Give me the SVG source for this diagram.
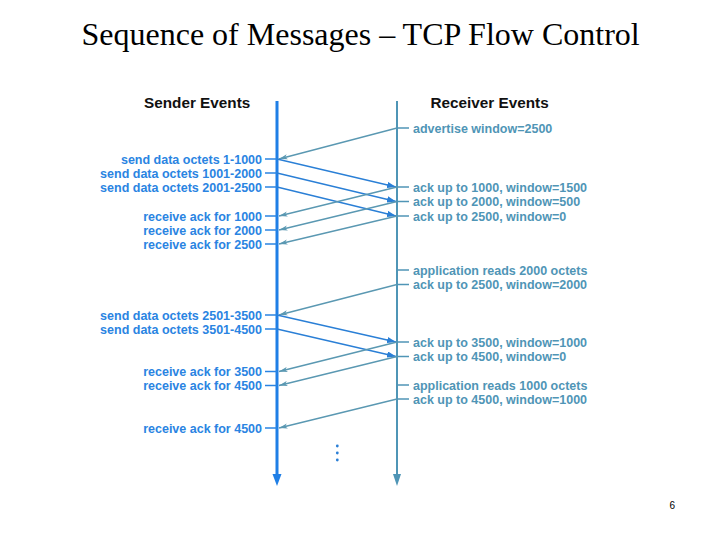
<svg xmlns="http://www.w3.org/2000/svg" width="720" height="540" viewBox="0 0 720 540">
<style>
.title{font-family:"Liberation Serif","Times New Roman",serif;font-size:32px;fill:#000}
.head{font-family:"Liberation Sans",Arial,sans-serif;font-weight:bold;font-size:15.3px;fill:#111}
.sl{font-family:"Liberation Sans",Arial,sans-serif;font-weight:bold;font-size:12.5px;fill:#2a84e2;text-anchor:end}
.rl{font-family:"Liberation Sans",Arial,sans-serif;font-weight:bold;font-size:12.5px;fill:#4f95b6}
.stick{stroke:#2a84e2;stroke-width:1.5}
.rtick{stroke:#4f95b6;stroke-width:1.5}
.data{stroke:#2a7fd6;stroke-width:1.3;fill:none;marker-end:url(#ad)}
.ack{stroke:#5a98b2;stroke-width:1.3;fill:none;marker-end:url(#aa)}
.num{font-family:"Liberation Sans",Arial,sans-serif;font-size:10px;fill:#000}
</style>
<defs>
<marker id="ad" viewBox="0 0 10 7" refX="10" refY="3.5" markerWidth="9" markerHeight="6.3" markerUnits="userSpaceOnUse" orient="auto">
<path d="M0,0 L10,3.5 L0,7 z" fill="#2a7fd6"/>
</marker>
<marker id="aa" viewBox="0 0 10 7" refX="10" refY="3.5" markerWidth="9" markerHeight="6" markerUnits="userSpaceOnUse" orient="auto">
<path d="M0,0.5 L10,3.5 L0,6.5 L2.5,3.5 z" fill="#5a98b2"/>
</marker>
</defs>
<rect width="720" height="540" fill="#fff"/>
<text class="title" x="81.5" y="45">Sequence of Messages – TCP Flow Control</text>

<g id="sender-axis">
<text class="head" x="144" y="108">Sender Events</text>
<line x1="277" y1="101" x2="277" y2="477" stroke="#1f7fe6" stroke-width="3"/>
<path d="M272.5,474 L281.5,474 L277,486 z" fill="#1f7fe6"/>
</g>
<g id="receiver-axis">
<text class="head" x="430.5" y="108">Receiver Events</text>
<line x1="397" y1="101" x2="397" y2="477" stroke="#4f95b6" stroke-width="2"/>
<path d="M393,474 L401,474 L397,486 z" fill="#4f95b6"/>
</g>

<g id="sender-events">
<g id="s1"><line class="stick" x1="265" y1="159" x2="277" y2="159"/><text class="sl" x="262" y="163.5">send data octets 1-1000</text></g>
<g id="s2"><line class="stick" x1="265" y1="173" x2="277" y2="173"/><text class="sl" x="262" y="177.5">send data octets 1001-2000</text></g>
<g id="s3"><line class="stick" x1="265" y1="187" x2="277" y2="187"/><text class="sl" x="262" y="191.5">send data octets 2001-2500</text></g>
<g id="s4"><line class="stick" x1="265" y1="216" x2="277" y2="216"/><text class="sl" x="262" y="220.5">receive ack for 1000</text></g>
<g id="s5"><line class="stick" x1="265" y1="230" x2="277" y2="230"/><text class="sl" x="262" y="234.5">receive ack for 2000</text></g>
<g id="s6"><line class="stick" x1="265" y1="244" x2="277" y2="244"/><text class="sl" x="262" y="248.5">receive ack for 2500</text></g>
<g id="s7"><line class="stick" x1="265" y1="315" x2="277" y2="315"/><text class="sl" x="262" y="319.5">send data octets 2501-3500</text></g>
<g id="s8"><line class="stick" x1="265" y1="329" x2="277" y2="329"/><text class="sl" x="262" y="333.5">send data octets 3501-4500</text></g>
<g id="s9"><line class="stick" x1="265" y1="371.5" x2="277" y2="371.5"/><text class="sl" x="262" y="376">receive ack for 3500</text></g>
<g id="s10"><line class="stick" x1="265" y1="385.5" x2="277" y2="385.5"/><text class="sl" x="262" y="390">receive ack for 4500</text></g>
<g id="s11"><line class="stick" x1="265" y1="428" x2="277" y2="428"/><text class="sl" x="262" y="432.5">receive ack for 4500</text></g>
</g>

<g id="receiver-events">
<g id="r1"><line class="rtick" x1="397" y1="128" x2="409" y2="128"/><text class="rl" x="413" y="132.5">advertise window=2500</text></g>
<g id="r2"><line class="rtick" x1="397" y1="187" x2="409" y2="187"/><text class="rl" x="413" y="191.5">ack up to 1000, window=1500</text></g>
<g id="r3"><line class="rtick" x1="397" y1="201.5" x2="409" y2="201.5"/><text class="rl" x="413" y="206">ack up to 2000, window=500</text></g>
<g id="r4"><line class="rtick" x1="397" y1="216" x2="409" y2="216"/><text class="rl" x="413" y="220.5">ack up to 2500, window=0</text></g>
<g id="r5"><line class="rtick" x1="397" y1="270" x2="409" y2="270"/><text class="rl" x="413" y="274.5">application reads 2000 octets</text></g>
<g id="r6"><line class="rtick" x1="397" y1="284.5" x2="409" y2="284.5"/><text class="rl" x="413" y="289">ack up to 2500, window=2000</text></g>
<g id="r7"><line class="rtick" x1="397" y1="342" x2="409" y2="342"/><text class="rl" x="413" y="346.5">ack up to 3500, window=1000</text></g>
<g id="r8"><line class="rtick" x1="397" y1="356.5" x2="409" y2="356.5"/><text class="rl" x="413" y="361">ack up to 4500, window=0</text></g>
<g id="r9"><line class="rtick" x1="397" y1="385" x2="409" y2="385"/><text class="rl" x="413" y="389.5">application reads 1000 octets</text></g>
<g id="r10"><line class="rtick" x1="397" y1="399" x2="409" y2="399"/><text class="rl" x="413" y="403.5">ack up to 4500, window=1000</text></g>
</g>

<g id="connectors">
<line class="ack" x1="397" y1="128" x2="279" y2="159"/>
<line class="data" x1="277" y1="159" x2="396" y2="187"/>
<line class="data" x1="277" y1="173" x2="396" y2="201.5"/>
<line class="data" x1="277" y1="187" x2="396" y2="216"/>
<line class="ack" x1="397" y1="187" x2="279" y2="216"/>
<line class="ack" x1="397" y1="201.5" x2="279" y2="230"/>
<line class="ack" x1="397" y1="216" x2="279" y2="244"/>
<line class="ack" x1="397" y1="284.5" x2="279" y2="315"/>
<line class="data" x1="277" y1="315" x2="396" y2="342"/>
<line class="data" x1="277" y1="329" x2="396" y2="356.5"/>
<line class="ack" x1="397" y1="342" x2="279" y2="371.5"/>
<line class="ack" x1="397" y1="356.5" x2="279" y2="385.5"/>
<line class="ack" x1="397" y1="399" x2="279" y2="428"/>
</g>

<g id="ellipsis" fill="#2a7fd6">
<circle cx="337.3" cy="446" r="1.4"/>
<circle cx="337.3" cy="453" r="1.4"/>
<circle cx="337.3" cy="460" r="1.4"/>
</g>
<text class="num" x="669.5" y="509">6</text>
</svg>
